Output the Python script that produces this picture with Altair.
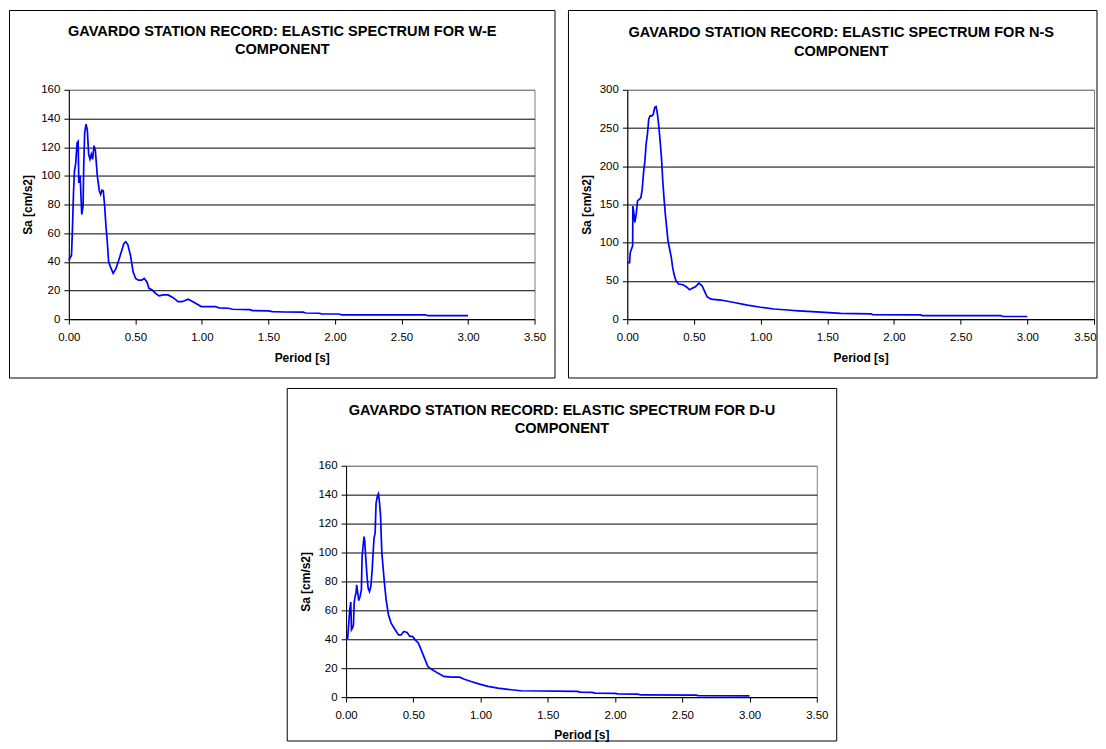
import altair as alt
import pandas as pd

FONT = "Liberation Sans"
BLUE = "#0000FF"

# ---------------- data ----------------
we_period = [0.000, 0.020, 0.025, 0.030, 0.035, 0.042, 0.052, 0.062, 0.070, 0.075,
             0.085, 0.097, 0.107, 0.112, 0.119, 0.129, 0.139, 0.149, 0.159, 0.169,
             0.179, 0.189, 0.199, 0.214, 0.229, 0.239, 0.249, 0.259, 0.269, 0.279,
             0.289, 0.299, 0.313, 0.333, 0.353, 0.378, 0.398, 0.413, 0.428, 0.443,
             0.463, 0.483, 0.502, 0.522, 0.547, 0.567, 0.587, 0.602, 0.627, 0.652,
             0.677, 0.709, 0.746, 0.784, 0.821, 0.851, 0.896, 0.933, 0.995, 1.100,
             1.130, 1.200, 1.230, 1.360, 1.380, 1.500, 1.530, 1.620, 1.760, 1.780,
             1.880, 1.900, 2.030, 2.050, 2.680, 2.700, 3.000]
we_sa = [41.0, 44.6, 57.0, 72.0, 88.0, 103.0, 109.0, 123.0, 124.0, 95.0,
         100.0, 73.0, 79.0, 107.0, 130.0, 136.0, 132.0, 115.0, 111.5, 115.0,
         111.5, 121.0, 118.0, 100.0, 89.6, 87.0, 90.0, 89.6, 79.0, 65.0,
         54.0, 40.0, 36.5, 32.0, 35.0, 42.0, 48.0, 52.6, 54.0, 52.0,
         44.6, 33.0, 28.4, 27.2, 27.2, 28.4, 26.0, 21.5, 20.3, 18.0,
         16.2, 16.9, 16.9, 15.0, 12.2, 12.2, 13.9, 12.2, 8.8, 8.8,
         7.9, 7.6, 6.9, 6.6, 6.0, 5.8, 5.2, 5.0, 4.9, 4.3,
         4.1, 3.7, 3.6, 3.0, 3.0, 2.4, 2.4]

ns_period = [0.000, 0.017, 0.022, 0.032, 0.040, 0.042, 0.050, 0.057, 0.067, 0.077,
             0.092, 0.102, 0.112, 0.122, 0.132, 0.141, 0.151, 0.161, 0.171, 0.186,
             0.196, 0.206, 0.216, 0.226, 0.236, 0.246, 0.256, 0.266, 0.275, 0.285,
             0.295, 0.305, 0.320, 0.330, 0.340, 0.350, 0.365, 0.385, 0.417, 0.442,
             0.467, 0.491, 0.511, 0.536, 0.561, 0.578, 0.598, 0.628, 0.702, 0.801,
             0.900, 1.000, 1.100, 1.200, 1.285, 1.450, 1.600, 1.830, 1.840, 2.200,
             2.210, 2.800, 2.820, 3.000]
ns_sa = [74.0, 74.0, 87.0, 92.0, 96.0, 148.0, 137.6, 126.6, 137.6, 155.0,
         157.0, 159.0, 170.0, 192.0, 207.0, 229.0, 242.0, 262.0, 266.0, 266.0,
         268.6, 277.0, 278.0, 268.6, 253.0, 233.6, 212.0, 181.0, 159.0, 137.6,
         120.0, 102.6, 89.5, 80.8, 67.7, 59.0, 50.2, 45.9, 45.0, 42.4,
         38.4, 40.6, 42.4, 47.2, 43.7, 37.0, 29.3, 26.2, 25.0, 21.8,
         18.3, 15.6, 13.3, 12.0, 10.9, 9.2, 7.6, 7.0, 5.9, 5.5,
         4.7, 4.5, 3.5, 3.5]

du_period = [0.000, 0.012, 0.020, 0.027, 0.035, 0.040, 0.047, 0.055, 0.060, 0.067,
             0.074, 0.079, 0.087, 0.094, 0.104, 0.114, 0.119, 0.127, 0.134, 0.139,
             0.146, 0.156, 0.164, 0.174, 0.184, 0.194, 0.201, 0.208, 0.216, 0.223,
             0.233, 0.241, 0.248, 0.256, 0.266, 0.275, 0.285, 0.298, 0.315, 0.335,
             0.365, 0.390, 0.409, 0.429, 0.454, 0.474, 0.494, 0.514, 0.538, 0.563,
             0.583, 0.608, 0.633, 0.682, 0.727, 0.782, 0.844, 0.880, 0.930, 0.993,
             1.055, 1.129, 1.228, 1.300, 1.720, 1.740, 1.830, 1.850, 2.000, 2.020,
             2.170, 2.190, 2.600, 2.620, 3.000]
du_sa = [40.0, 40.8, 51.0, 60.0, 65.7, 46.6, 47.7, 50.0, 65.0, 69.6,
         72.0, 77.7, 72.0, 66.8, 69.6, 74.2, 97.0, 105.0, 111.0, 107.6,
         97.0, 83.4, 75.4, 73.0, 76.5, 88.0, 99.6, 110.0, 113.4, 134.0,
         139.0, 140.6, 135.0, 126.0, 99.6, 90.0, 79.0, 67.3, 57.0, 51.2,
         46.6, 43.0, 43.0, 45.4, 44.7, 42.0, 42.0, 39.6, 37.3, 31.6,
         27.0, 21.2, 19.4, 16.6, 14.3, 13.8, 13.8, 12.4, 10.8, 9.0,
         7.4, 6.2, 5.1, 4.4, 4.0, 3.5, 3.3, 2.8, 2.6, 2.2,
         2.1, 1.5, 1.4, 1.0, 0.9]

x_ticks = [0.0, 0.5, 1.0, 1.5, 2.0, 2.5, 3.0, 3.5]

we_title = ["GAVARDO STATION RECORD: ELASTIC SPECTRUM FOR W-E", "COMPONENT"]
ns_title = ["GAVARDO STATION RECORD: ELASTIC SPECTRUM FOR N-S", "COMPONENT"]
du_title = ["GAVARDO STATION RECORD: ELASTIC SPECTRUM FOR D-U", "COMPONENT"]


def panel(period, sa, title_lines, ymax, ystep, W, H, L, R, T, B, title_y,
          pull_last=False):
    df = pd.DataFrame({"Period": period, "Sa": sa})
    one = pd.DataFrame({"k": [0]})

    extra = {}
    if pull_last:
        # keep the last tick label inside the page edge
        extra = dict(
            labelAlign=alt.condition("datum.value == 3.5", alt.value("right"), alt.value("center")),
            labelOffset=alt.condition("datum.value == 3.5", alt.value(2), alt.value(0)),
        )

    x = alt.X(
        "Period:Q",
        scale=alt.Scale(domain=[0, 3.5], nice=False, zero=False),
        axis=alt.Axis(
            values=x_ticks, format=".2f", title="Period [s]", grid=False,
            labelFlush=False, tickSize=5, labelPadding=7, titleY=38,
            titleBaseline="middle", **extra,
        ),
    )
    y = alt.Y(
        "Sa:Q",
        scale=alt.Scale(domain=[0, ymax], nice=False),
        axis=alt.Axis(
            values=list(range(0, ymax + 1, ystep)), title="Sa [cm/s2]",
            grid=True, labelFlush=False,
            gridColor=alt.condition(f"datum.value == {ymax}",
                                    alt.value("#808080"), alt.value("#000000")),
            tickSize=5, labelPadding=4, titleX=-41, titleBaseline="middle",
        ),
    )
    line = alt.Chart(df).mark_line(color=BLUE, strokeWidth=1.7).encode(x=x, y=y)

    border = alt.Chart(one).mark_rect(
        fill="transparent", stroke="#000000", strokeWidth=1
    ).encode(
        x=alt.value(-L), x2=alt.value(W + R),
        y=alt.value(-T), y2=alt.value(H + B),
    )

    layers = [border, line]
    for i, txt in enumerate(title_lines):
        layers.append(
            alt.Chart(one).mark_text(
                text=txt, font=FONT, fontSize=14.6, fontWeight="bold",
                align="center", baseline="top", color="#000000",
            ).encode(x=alt.value(W / 2 - 19.5), y=alt.value(title_y + 18.5 * i))
        )

    return alt.layer(*layers).properties(width=W, height=H)


p1 = panel(we_period, we_sa, we_title, 160, 20, W=467, H=230, L=59.5, R=20.5,
           T=79.5, B=59, title_y=-66)
p2 = panel(ns_period, ns_sa, ns_title, 300, 50, W=468, H=230, L=59, R=3,
           T=79.5, B=59, title_y=-64.5, pull_last=True)
p3 = panel(du_period, du_sa, du_title, 160, 20, W=472, H=232, L=59, R=20,
           T=77.5, B=44, title_y=-63)

spacer = alt.Chart(pd.DataFrame({"k": [0]})).mark_point(opacity=0).properties(
    width=217, height=10, view=alt.ViewBackground(stroke="transparent")
)

top = alt.hconcat(p1, p2, spacing=11)
bottom = alt.hconcat(spacer, p3, spacing=0)

chart = alt.vconcat(top, bottom, spacing=8).properties(
    padding=0, background="white"
).configure_view(
    stroke="#808080", strokeWidth=1
).configure_axis(
    labelFont=FONT, labelFontSize=11.5, labelColor="#000000",
    titleFont=FONT, titleFontSize=12, titleFontWeight="bold", titleColor="#000000",
    domainColor="#000000", tickColor="#000000", gridWidth=1,
)

chart.save("out.html", embed_options={"renderer": "svg", "actions": False})
